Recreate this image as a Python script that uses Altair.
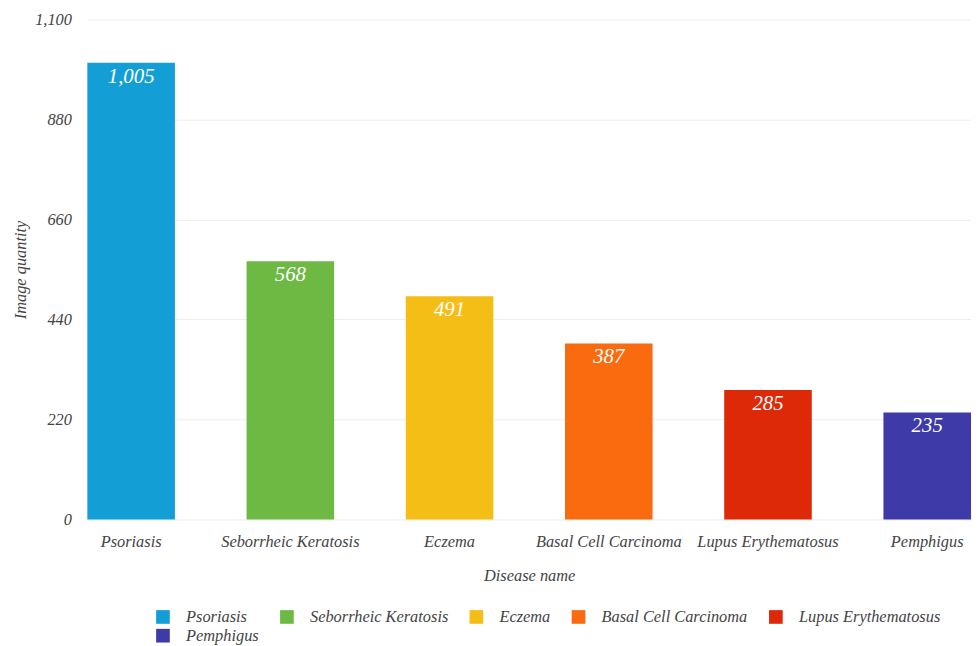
import altair as alt
import pandas as pd

diseases = ["Psoriasis", "Seborrheic Keratosis", "Eczema", "Basal Cell Carcinoma", "Lupus Erythematosus", "Pemphigus"]
counts = [1005, 568, 491, 387, 285, 235]
colors = ["#139FD6", "#6DB944", "#F5BE16", "#FA6A0E", "#DE2908", "#3E3BA8"]
y_ticks = [0, 220, 440, 660, 880, 1100]

df = pd.DataFrame({"Disease": diseases, "Count": counts})
FONT = "Liberation Serif"
FS = 16.5

base = alt.Chart(df).encode(
    x=alt.X("Disease:N", sort=diseases, title="Disease name",
            scale=alt.Scale(paddingInner=0.45, paddingOuter=0),
            axis=alt.Axis(labelAngle=0, labelFont=FONT, labelFontStyle="italic", labelFontSize=FS,
                          labelColor="#444", labelPadding=14, ticks=False, domain=False,
                          titleFont=FONT, titleFontStyle="italic", titleFontWeight="normal",
                          titleFontSize=FS, titleColor="#444", titlePadding=18)),
)

bars = base.mark_bar().encode(
    y=alt.Y("Count:Q", title="Image quantity",
            scale=alt.Scale(domain=[0, 1100], nice=False),
            axis=alt.Axis(values=y_ticks, format=",.0f", labelFont=FONT, labelFontStyle="italic",
                          labelFontSize=FS, labelColor="#444", labelPadding=16, ticks=False,
                          domain=False, gridColor="#eeeeee", gridWidth=1,
                          titleFont=FONT, titleFontStyle="italic", titleFontWeight="normal",
                          titleFontSize=FS, titleColor="#444", titlePadding=6)),
    color=alt.Color("Disease:N", sort=diseases,
                    scale=alt.Scale(domain=diseases, range=colors),
                    legend=alt.Legend(title=None, orient="none", legendX=68, legendY=594,
                                      direction="horizontal", columns=5, symbolType="square",
                                      symbolSize=190, symbolStrokeWidth=0, symbolOpacity=1,
                                      labelFont=FONT, labelFontStyle="italic", labelFontSize=FS,
                                      labelColor="#444", labelOffset=15, columnPadding=20,
                                      rowPadding=2)),
)

labels = base.mark_text(font=FONT, fontStyle="italic", fontSize=21, color="white",
                        baseline="top", dy=3).encode(
    y=alt.Y("Count:Q"),
    text=alt.Text("Count:Q", format=","),
)

chart = (bars + labels).properties(
    width=891, height=504,
    autosize=alt.AutoSizeParams(type="none"),
    padding={"left": 80, "top": 9, "right": 0, "bottom": 124},
).configure_view(stroke=None).configure_axisX(grid=False)

chart.save("out.html", embed_options={"renderer": "svg", "actions": False})
